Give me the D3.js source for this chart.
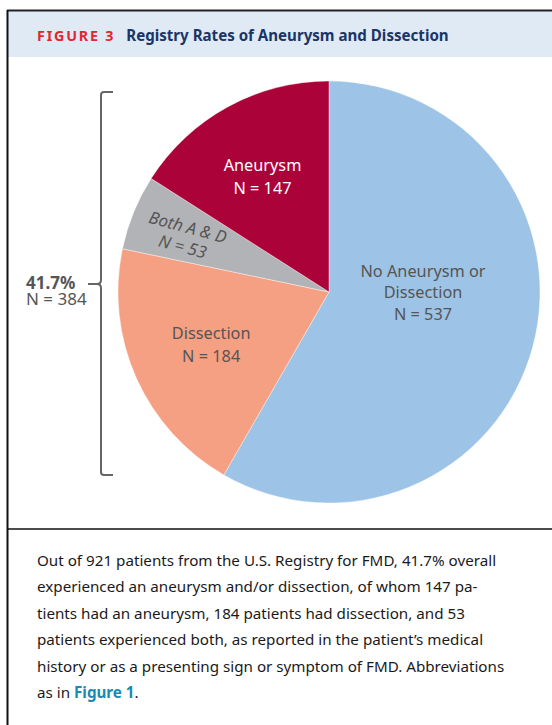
<!DOCTYPE html>
<html>
<head>
<meta charset="utf-8">
<script src="https://cdn.jsdelivr.net/npm/d3@7"></script>
<style>
  body { margin: 0; background: #fff; }
  svg { display: block; }
</style>
</head>
<body>
<script>
const width = 552, height = 725;

// chart data
const categories = ["No Aneurysm or Dissection", "Dissection", "Both A & D", "Aneurysm"];
const counts = [537, 184, 53, 147];
const sliceColors = ["#9dc3e6", "#f59f83", "#b2b3b6", "#ab0339"];
const labelLines = [
  ["No Aneurysm or", "Dissection", "N = 537"],
  ["Dissection", "N = 184"],
  ["Both A & D", "N = 53"],
  ["Aneurysm", "N = 147"]
];
const bracketLabel = ["41.7%", "N = 384"];
const captionLines = [
  "Out of 921 patients from the U.S. Registry for FMD, 41.7% overall",
  "experienced an aneurysm and/or dissection, of whom 147 pa-",
  "tients had an aneurysm, 184 patients had dissection, and 53",
  "patients experienced both, as reported in the patient\u2019s medical",
  "history or as a presenting sign or symptom of FMD. Abbreviations"
];

const font = "'Noto Sans', 'Open Sans', sans-serif";
const svg = d3.select("body")
  .append("svg")
  .attr("width", width)
  .attr("height", height);

function drawFrame() {
  svg.append("rect")
    .attr("x", 8).attr("y", 11).attr("width", 560).attr("height", 46)
    .attr("fill", "#dfeaf5");
  svg.append("line")
    .attr("x1", 7).attr("x2", 560).attr("y1", 10.5).attr("y2", 10.5)
    .attr("stroke", "#222").attr("stroke-width", 2);
  svg.append("line")
    .attr("x1", 7.5).attr("x2", 7.5).attr("y1", 10).attr("y2", 725)
    .attr("stroke", "#111").attr("stroke-width", 2);
  svg.append("line")
    .attr("x1", 7).attr("x2", 560).attr("y1", 529).attr("y2", 529)
    .attr("stroke", "#111").attr("stroke-width", 1.6);

  const title = svg.append("text")
    .attr("x", 37).attr("y", 41)
    .attr("font-family", font)
    .attr("font-weight", "bold");
  title.append("tspan")
    .attr("fill", "#e3262e")
    .attr("font-size", 14.3)
    .attr("letter-spacing", 1.8)
    .text("FIGURE 3");
  title.append("tspan")
    .attr("dx", 11)
    .attr("fill", "#1a3566")
    .attr("font-size", 15.1)
    .text("Registry Rates of Aneurysm and Dissection");
}

function drawPie() {
  const cx = 329, cy = 292, r = 211;
  const pie = d3.pie().sort(null)(counts);
  const arc = d3.arc().innerRadius(0).outerRadius(r);
  const g = svg.append("g").attr("transform", `translate(${cx},${cy})`);

  g.selectAll("path")
    .data(pie)
    .enter()
    .append("path")
    .attr("d", arc)
    .attr("fill", (d, i) => sliceColors[i])
    .attr("stroke", "#fff")
    .attr("stroke-width", 0.4);

  // label placement: angle (deg, clockwise from top) and distance from centre
  const labelAngle = [90, 246, 291, 330];
  const labelRadius = [94, 129, 154, 133];
  const textColor = ["#555", "#555", "#555", "#fff"];
  const rotate = [0, 0, 15, 0];
  const lineGap = [21.5, 23, 20, 23];

  pie.forEach((d, i) => {
    const c = d3.pointRadial(labelAngle[i] * Math.PI / 180, labelRadius[i]);
    const lines = labelLines[i];
    const t = g.append("text")
      .attr("transform", `translate(${c[0]},${c[1]}) rotate(${rotate[i]})`)
      .attr("text-anchor", "middle")
      .attr("font-family", font)
      .attr("font-size", i == 2 ? 16.8 : 16.3)
      .attr("font-style", i == 2 ? "italic" : "normal")
      .attr("fill", textColor[i]);
    lines.forEach((line, j) => {
      t.append("tspan")
        .attr("x", 0)
        .attr("y", (j - (lines.length - 1) / 2) * lineGap[i] + 6)
        .text(line);
    });
  });
}

function drawBracket() {
  const top = 92, bottom = 475, x = 101, mid = 284;
  const path = d3.path();
  path.moveTo(113, top);
  path.lineTo(x + 3, top);
  path.quadraticCurveTo(x, top, x, top + 3);
  path.lineTo(x, mid - 4);
  path.quadraticCurveTo(x, mid, x - 4, mid);
  path.lineTo(88, mid);
  path.moveTo(x - 4, mid);
  path.quadraticCurveTo(x, mid, x, mid + 4);
  path.lineTo(x, bottom - 3);
  path.quadraticCurveTo(x, bottom, x + 3, bottom);
  path.lineTo(113, bottom);
  svg.append("path")
    .attr("d", path.toString())
    .attr("fill", "none")
    .attr("stroke", "#666")
    .attr("stroke-width", 2);

  svg.append("text")
    .attr("x", 26).attr("y", 289)
    .attr("font-family", font).attr("font-size", 17)
    .attr("font-weight", "bold").attr("fill", "#555")
    .text(bracketLabel[0]);
  svg.append("text")
    .attr("x", 26).attr("y", 305)
    .attr("font-family", font).attr("font-size", 17)
    .attr("fill", "#555")
    .text(bracketLabel[1]);
}

function drawCaption() {
  const t = svg.append("g")
    .attr("font-family", font)
    .attr("font-size", 15.2)
    .attr("fill", "#1a1a1a");
  captionLines.forEach((line, i) => {
    t.append("text")
      .attr("x", 37).attr("y", 566 + i * 26.4)
      .text(line);
  });
  const last = t.append("text")
    .attr("x", 37).attr("y", 566 + captionLines.length * 26.4);
  last.append("tspan").text("as in ");
  last.append("tspan").attr("fill", "#1a8ab5").attr("font-weight", "bold").text("Figure 1");
  last.append("tspan").text(".");
}

function main() {
  drawFrame();
  drawPie();
  drawBracket();
  drawCaption();
}

main()
</script>
</body>
</html>
